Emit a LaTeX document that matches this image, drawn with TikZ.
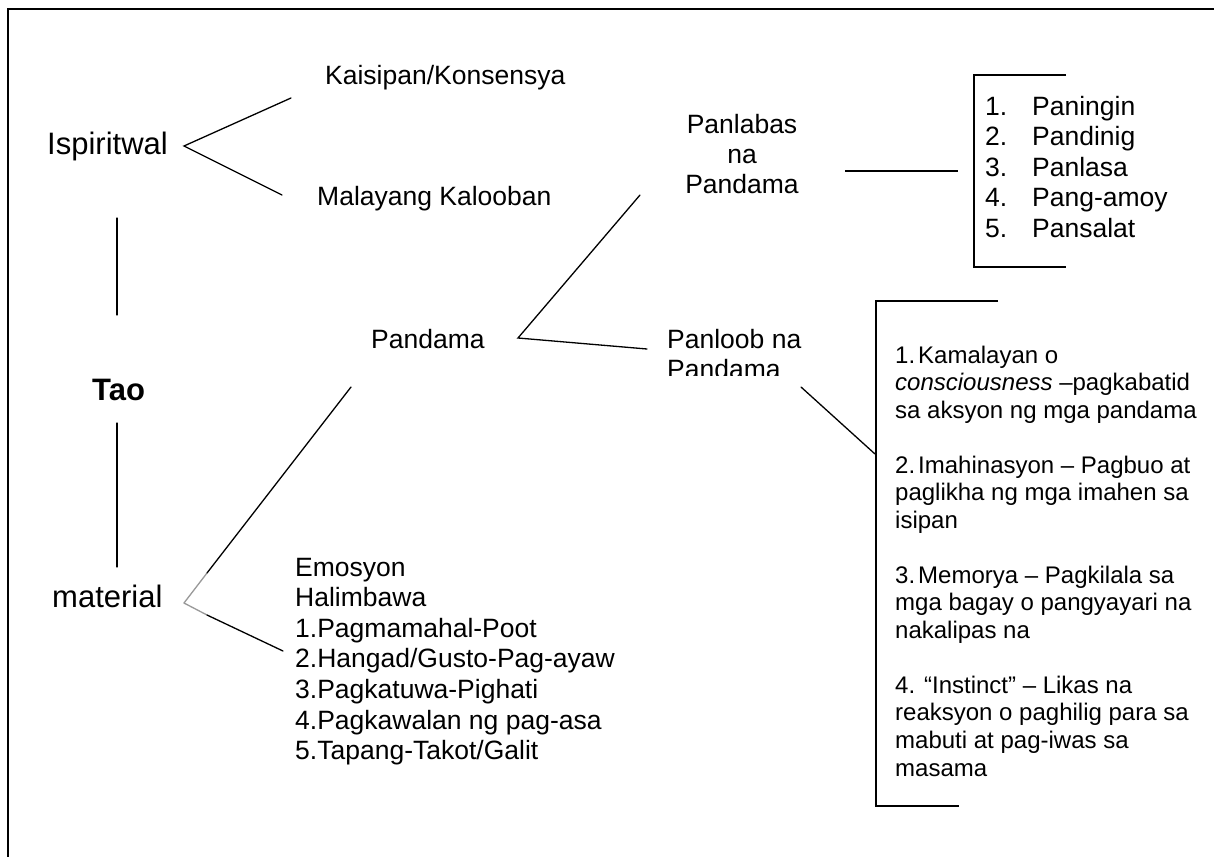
\documentclass[tikz,border=0pt]{standalone}
\usepackage{fontspec}
\setmainfont{Liberation Sans}
\begin{document}
\begin{tikzpicture}[x=1pt,y=-1pt]
\tikzset{
  big/.style={font=\fontsize{31}{36}\selectfont, anchor=base west, inner sep=0pt},
  mid/.style={font=\fontsize{26.5}{30.5}\selectfont, anchor=base west, inner sep=0pt},
  midc/.style={font=\fontsize{26.5}{30.5}\selectfont, anchor=base, inner sep=0pt},
  sml/.style={font=\fontsize{24}{27.5}\selectfont, anchor=base west, inner sep=0pt},
  ln/.style={line width=1.3pt, line cap=round},
  thickln/.style={line width=1.8pt},
  framel/.style={line width=2.5pt},
}
\fill[white] (0,0) rectangle (1214,856);
\useasboundingbox (0,0) rectangle (1214,856);

% frame (top and left)
\coordinate (fTR) at (1216,9);
\coordinate (fTL) at (8,9);
\coordinate (fBL) at (8,858);
\draw[framel] (fTR) -- (fTL) -- (fBL);

% main labels
\node[big] (isp) at (47,154) {Ispiritwal};
\node[big] (tao) at (92,400) {\bfseries Tao};
\node[big] (mat) at (52,607) {material};
\node[mid] (kai) at (325,85) {Kaisipan/Konsensya};
\node[mid] (mal) at (317,205) {Malayang Kalooban};
\node[mid] (pan) at (371,348) {Pandama};

% Ispiritwal branch
\coordinate (ispA) at (184,146);
\coordinate (ispU) at (291,98);
\coordinate (ispL) at (282,195);
\draw[ln] (ispU) -- (ispA) -- (ispL);

% vertical links
\coordinate (v1a) at (117,218);
\coordinate (v1b) at (117,315);
\coordinate (v2a) at (117,423);
\coordinate (v2b) at (117,567);
\draw[ln] (v1a) -- (v1b);
\draw[ln] (v2a) -- (v2b);

% material branch
\coordinate (matA) at (184,603);
\coordinate (matG1) at (207,573);
\coordinate (matU) at (351,387);
\coordinate (matG2) at (207,615);
\coordinate (matL) at (283,651);
\draw[ln, gray!80] (matA) -- (matG1);
\draw[ln] (matG1) -- (matU);
\draw[ln, gray!80] (matA) -- (matG2);
\draw[ln] (matG2) -- (matL);

% Pandama branch
\coordinate (panA) at (518,338);
\coordinate (panU) at (640,195);
\coordinate (panL) at (647,349);
\draw[ln] (panU) -- (panA) -- (panL);

% Panlabas na Pandama
\node[midc] (plb1) at (742,133) {Panlabas};
\node[midc] (plb2) at (742,163) {na};
\node[midc] (plb3) at (742,193) {Pandama};
\coordinate (plbE) at (845,171);
\coordinate (plbF) at (958,171);
\draw[thickln] (plbE) -- (plbF);

% senses bracket
\coordinate (b1t) at (1066,75);
\coordinate (b1tl) at (974,75);
\coordinate (b1bl) at (974,267);
\coordinate (b1b) at (1066,267);
\draw[thickln] (b1t) -- (b1tl) -- (b1bl) -- (b1b);
\foreach \t [count=\i] in {Paningin, Pandinig, Panlasa, Pang-amoy, Pansalat}{
  \node[mid] (sn\i) at (985,{115+30.5*(\i-1)}) {\i.};
  \node[mid] (st\i) at (1032,{115+30.5*(\i-1)}) {\t};
}

% Panloob na Pandama
\node[mid] (plo1) at (667,348) {Panloob na};
\begin{scope}
  \clip (600,352) rectangle (900,375);
  \node[mid] (plo2) at (667,378.5) {Pandama};
\end{scope}
\coordinate (ploE) at (801,387);
\coordinate (ploF) at (875,454);
\draw[ln] (ploE) -- (ploF);

% inner bracket
\coordinate (b2t) at (998,301);
\coordinate (b2tl) at (876,301);
\coordinate (b2bl) at (876,806);
\coordinate (b2b) at (959,806);
\draw[thickln] (b2t) -- (b2tl) -- (b2bl) -- (b2b);

\node[sml] (in1) at (895,363.0) {1.\hspace{3pt}Kamalayan o};
\node[sml] (in2) at (895,390.5) {\textit{consciousness} –pagkabatid};
\node[sml] (in3) at (895,418.1) {sa aksyon ng mga pandama};
\node[sml] (in4) at (895,473.1) {2.\hspace{3pt}Imahinasyon – Pagbuo at};
\node[sml] (in5) at (895,500.7) {paglikha ng mga imahen sa};
\node[sml] (in6) at (895,528.2) {isipan};
\node[sml] (in7) at (895,583.2) {3.\hspace{3pt}Memorya – Pagkilala sa};
\node[sml] (in8) at (895,610.8) {mga bagay o pangyayari na};
\node[sml] (in9) at (895,638.3) {nakalipas na};
\node[sml] (in10) at (895,693.4) {4. “Instinct” – Likas na};
\node[sml] (in11) at (895,720.9) {reaksyon o paghilig para sa};
\node[sml] (in12) at (895,748.4) {mabuti at pag-iwas sa};
\node[sml] (in13) at (895,776.0) {masama};

% Emosyon list
\foreach \t [count=\i] in {Emosyon, Halimbawa, 1.Pagmamahal-Poot, 2.Hangad/Gusto-Pag-ayaw, 3.Pagkatuwa-Pighati, 4.Pagkawalan ng pag-asa, 5.Tapang-Takot/Galit}{
  \node[mid] (emo\i) at (295,{576+30.6*(\i-1)}) {\t};
}
\end{tikzpicture}
\end{document}
